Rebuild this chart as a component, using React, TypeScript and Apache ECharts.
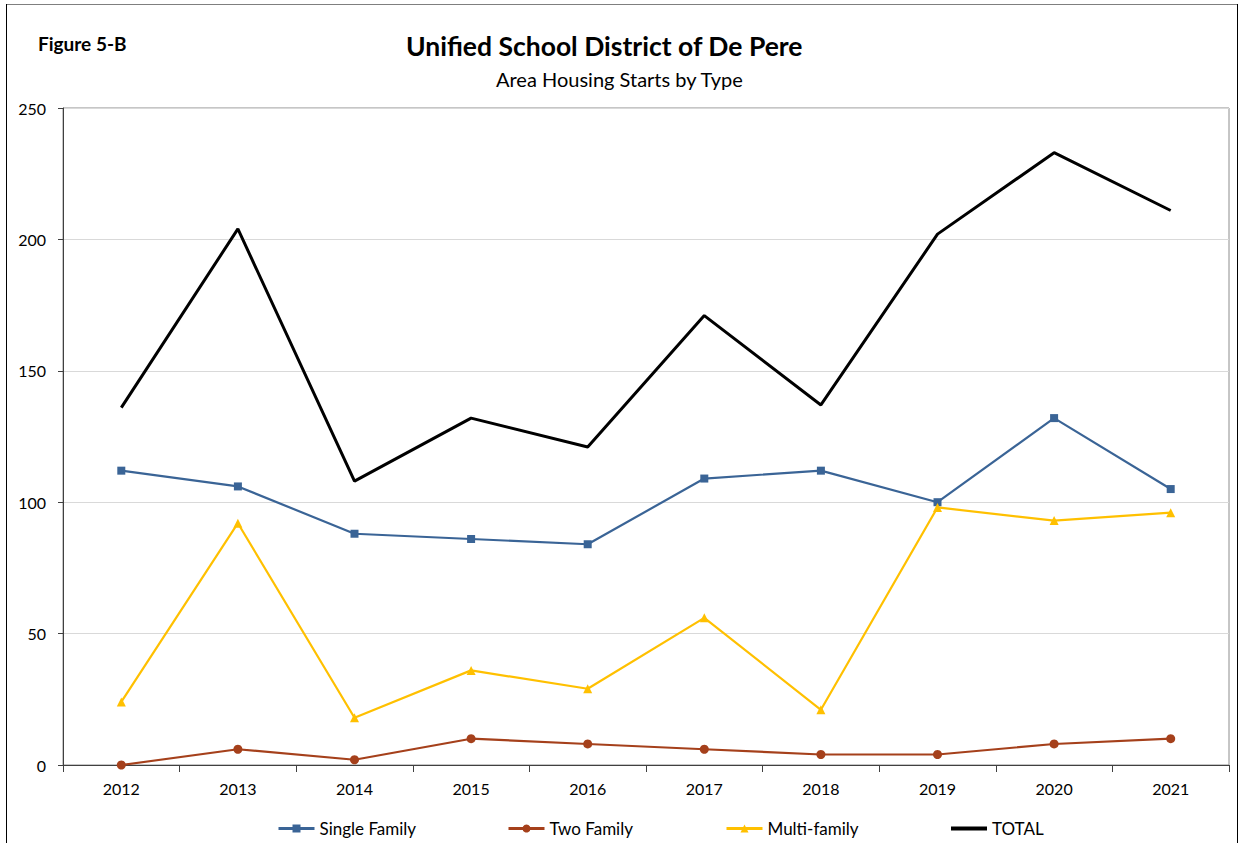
import React, { useEffect, useRef } from "react";
import * as echarts from "echarts";

const years = ["2012", "2013", "2014", "2015", "2016", "2017", "2018", "2019", "2020", "2021"];
const singleFamily = [112, 106, 88, 86, 84, 109, 112, 100, 132, 105];
const twoFamily = [0, 6, 2, 10, 8, 6, 4, 4, 8, 10];
const multiFamily = [24, 92, 18, 36, 29, 56, 21, 98, 93, 96];
const total = [136, 204, 108, 132, 121, 171, 137, 202, 233, 211];

const FONT = "Lato, 'Open Sans', 'DejaVu Sans', sans-serif";

export default function App() {
  const ref = useRef<HTMLDivElement>(null);
  useEffect(() => {
    if (!ref.current) return;
    const chart = echarts.init(ref.current, null, { renderer: "svg" });
    const legendText = { fontFamily: FONT, fontSize: 17, color: "#000" };
    const mkLegend = (name: string, left: number, extra: any = {}) => ({
      data: [{ name, ...extra }],
      left,
      top: 815,
      itemWidth: 36,
      itemHeight: 10,
      textStyle: legendText,
      selectedMode: false,
    });
    chart.setOption({
      animation: false,
      backgroundColor: "#fff",
      textStyle: { fontFamily: FONT },
      title: [
        {
          text: "Unified School District of De Pere",
          left: 401,
          top: 27,
          textStyle: { fontFamily: FONT, fontSize: 26.5, fontWeight: "bold", color: "#000" },
        },
        {
          text: "Area Housing Starts by Type",
          left: 491,
          top: 64,
          textStyle: { fontFamily: FONT, fontSize: 20, fontWeight: "normal", color: "#000" },
        },
        {
          text: "Figure 5-B",
          left: 33,
          top: 29,
          textStyle: { fontFamily: FONT, fontSize: 19, fontWeight: "bold", color: "#000" },
        },
      ],
      graphic: [
        { type: "line", shape: { x1: 6, y1: 4.5, x2: 1237, y2: 4.5 }, style: { stroke: "#7f7f7f", lineWidth: 1 } },
        { type: "line", shape: { x1: 6.5, y1: 4, x2: 6.5, y2: 843 }, style: { stroke: "#000", lineWidth: 1 } },
        { type: "line", shape: { x1: 1237.5, y1: 4, x2: 1237.5, y2: 843 }, style: { stroke: "#000", lineWidth: 1 } },
      ],
      legend: [
        mkLegend("Single Family", 272, { lineStyle: { width: 3 } }),
        mkLegend("Two Family", 502, { lineStyle: { width: 3 } }),
        mkLegend("Multi-family", 720, { lineStyle: { width: 3 } }),
        mkLegend("TOTAL", 944, { itemStyle: { opacity: 0 }, lineStyle: { width: 4 } }),
      ],
      grid: {
        left: 63,
        top: 108,
        right: 15,
        bottom: 78,
        show: true,
        borderColor: "#8c8c8c",
        borderWidth: 1,
        backgroundColor: "transparent",
      },
      xAxis: {
        type: "category",
        data: years,
        boundaryGap: true,
        axisLine: { lineStyle: { color: "#404040", width: 1 } },
        axisTick: { show: true, length: 7, inside: false, lineStyle: { color: "#404040" } },
        axisLabel: { fontFamily: FONT, fontSize: 16, color: "#000", margin: 15 },
        splitLine: { show: false },
      },
      yAxis: {
        type: "value",
        min: 0,
        max: 250,
        interval: 50,
        axisLine: { show: true, lineStyle: { color: "#404040", width: 1 } },
        axisTick: { show: true, length: 5, inside: false, lineStyle: { color: "#404040" } },
        axisLabel: { fontFamily: FONT, fontSize: 16, color: "#000", margin: 17 },
        splitLine: { show: true, lineStyle: { color: "#d9d9d9", width: 1 } },
      },
      series: [
        {
          name: "Single Family",
          type: "line",
          data: singleFamily,
          symbol: "rect",
          symbolSize: 8,
          color: "#3a6496",
          lineStyle: { width: 2.2, color: "#3a6496" },
          itemStyle: { color: "#3a6496" },
        },
        {
          name: "Two Family",
          type: "line",
          data: twoFamily,
          symbol: "circle",
          symbolSize: 9,
          color: "#a5401b",
          lineStyle: { width: 2.2, color: "#a5401b" },
          itemStyle: { color: "#a5401b" },
        },
        {
          name: "Multi-family",
          type: "line",
          data: multiFamily,
          symbol: "triangle",
          symbolSize: 9,
          color: "#ffc000",
          lineStyle: { width: 2.2, color: "#ffc000" },
          itemStyle: { color: "#ffc000" },
        },
        {
          name: "TOTAL",
          type: "line",
          data: total,
          symbol: "none",
          color: "#000",
          lineStyle: { width: 3, color: "#000" },
          itemStyle: { color: "#000" },
        },
      ],
    });
    return () => chart.dispose();
  }, []);
  return (
    <div
      ref={ref}
      style={{ position: "fixed", left: 0, top: 0, width: 1244, height: 843 }}
    />
  );
}
